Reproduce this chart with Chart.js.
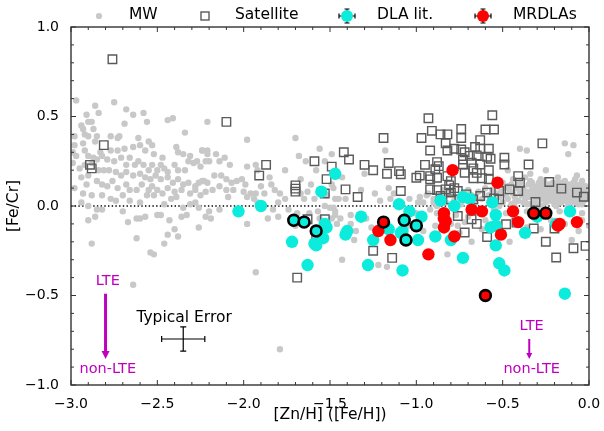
<!DOCTYPE html>
<html>
<head>
<meta charset="utf-8">
<script src="https://cdn.jsdelivr.net/npm/chart.js"></script>
<style>
  html, body { margin: 0; padding: 0; background: #fff; }
  canvas { display: block; }
</style>
</head>
<body>
<canvas id="chart" width="604" height="431"></canvas>
<script>
// Milky Way stars (grey dots)
const mwPoints = [
  [-2.97,0.59],[-2.86,0.56],[-2.75,0.58],[-2.84,0.52],[-2.68,0.54],[-2.58,0.52],[-2.64,0.51],[-2.91,0.51],[-2.56,0.47],[-2.44,0.48],
  [-2.41,0.49],[-2.21,0.47],[-2.94,0.45],[-2.90,0.47],[-2.88,0.47],[-2.69,0.46],[-2.93,0.43],[-2.87,0.43],[-2.98,0.39],[-2.92,0.40],
  [-2.90,0.39],[-2.85,0.39],[-2.77,0.39],[-2.73,0.38],[-2.72,0.39],[-2.61,0.38],[-2.55,0.36],[-2.53,0.34],[-2.34,0.41],[-2.98,0.34],
  [-2.93,0.35],[-2.86,0.36],[-2.83,0.30],[-2.77,0.31],[-2.73,0.31],[-2.69,0.32],[-2.64,0.33],[-2.60,0.34],[-2.57,0.31],[-2.52,0.29],
  [-2.47,0.27],[-2.39,0.33],[-2.38,0.30],[-2.35,0.29],[-2.31,0.28],[-2.27,0.25],[-2.24,0.31],[-2.99,0.30],[-2.97,0.28],[-2.92,0.31],
  [-2.90,0.28],[-2.87,0.27],[-2.85,0.26],[-2.82,0.28],[-2.79,0.26],[-2.75,0.25],[-2.71,0.27],[-2.68,0.23],[-2.66,0.27],[-2.63,0.23],
  [-2.61,0.25],[-2.58,0.23],[-2.55,0.20],[-2.53,0.23],[-2.50,0.20],[-2.48,0.23],[-2.46,0.21],[-2.44,0.19],[-2.40,0.23],[-2.38,0.20],
  [-2.34,0.20],[-2.32,0.25],[-2.29,0.24],[-2.25,0.22],[-2.22,0.25],[-2.99,0.24],[-2.95,0.21],[-2.92,0.23],[-2.88,0.24],[-2.84,0.20],
  [-2.81,0.20],[-2.78,0.20],[-2.74,0.19],[-2.71,0.17],[-2.68,0.19],[-2.64,0.17],[-2.60,0.18],[-2.57,0.16],[-2.54,0.15],[-2.51,0.17],
  [-2.48,0.15],[-2.44,0.16],[-2.41,0.13],[-2.38,0.15],[-2.35,0.12],[-2.32,0.13],[-2.28,0.11],[-2.26,0.13],[-2.23,0.14],[-2.94,0.16],
  [-2.90,0.17],[-2.85,0.14],[-2.82,0.12],[-2.79,0.11],[-2.76,0.14],[-2.73,0.10],[-2.68,0.12],[-2.66,0.09],[-2.62,0.09],[-2.59,0.12],
  [-2.55,0.09],[-2.53,0.11],[-2.50,0.09],[-2.47,0.07],[-2.44,0.10],[-2.40,0.08],[-2.36,0.09],[-2.31,0.07],[-2.28,0.09],[-2.25,0.06],
  [-2.98,0.10],[-2.91,0.12],[-2.93,0.07],[-2.88,0.06],[-2.82,0.06],[-2.77,0.04],[-2.74,0.03],[-2.70,0.06],[-2.66,0.03],[-2.60,0.02],
  [-2.56,0.06],[-2.52,0.06],[-2.46,0.01],[-2.42,0.04],[-2.39,0.05],[-2.35,-0.01],[-2.31,0.01],[-2.28,0.02],[-2.26,-0.01],[-2.94,0.02],
  [-2.90,0.00],[-2.70,-0.03],[-2.67,-0.09],[-2.62,-0.07],[-2.60,-0.07],[-2.57,-0.06],[-2.50,-0.05],[-2.48,-0.05],[-2.43,-0.08],[-2.36,-0.06],
  [-2.33,-0.05],[-2.26,-0.12],[-2.86,-0.06],[-2.85,-0.02],[-2.82,-0.02],[-2.90,-0.08],[-2.88,-0.21],[-2.62,-0.18],[-2.44,-0.16],[-2.40,-0.13],
  [-2.38,-0.17],[-2.46,-0.21],[-2.54,-0.26],[-2.52,-0.27],[-2.64,-0.44],[-1.93,-0.37],[-1.79,-0.80],
  [-1.98,0.37],[-1.70,0.38],[-2.24,0.31],[-2.21,0.31],[-2.21,0.29],[-2.16,0.29],[-2.11,0.27],[-2.08,0.23],[-2.14,0.25],[-2.20,0.25],
  [-1.98,0.22],[-1.93,0.23],[-1.92,0.20],[-2.24,0.14],[-2.21,0.13],[-2.17,0.17],[-2.13,0.17],[-2.10,0.15],[-2.07,0.13],[-2.04,0.14],
  [-2.01,0.15],[-1.99,0.12],[-2.14,0.11],[-2.10,0.09],[-2.22,0.08],[-2.18,0.09],[-2.06,0.09],[-2.00,0.08],[-1.96,0.07],[-1.93,0.07],
  [-1.90,0.11],[-1.88,0.07],[-1.85,0.16],[-1.84,0.12],[-1.82,0.09],[-1.79,0.07],[-1.76,0.04],[-1.76,0.20],[-1.68,0.28],[-1.64,0.25],
  [-1.58,0.20],[-1.67,0.15],[-1.67,0.07],[-1.65,0.04],[-1.61,0.12],[-1.59,0.04],[-1.57,-0.03],[-1.74,-0.02],[-1.83,-0.02],[-1.86,-0.07],
  [-2.14,-0.02],[-2.20,-0.03],[-2.22,-0.06],[-2.19,-0.07],[-2.09,0.05],[-1.98,0.05],[-1.94,0.04],[-1.92,0.02],[-1.80,0.02],[-1.80,-0.06],
  [-1.98,-0.10],[-1.69,-0.04],[-1.62,-0.04],[-1.56,-0.07],[-1.49,0.12],[-1.47,0.04],[-1.48,-0.01],[-1.47,-0.03],[-1.52,0.06],[-1.53,0.00],
  [-1.63,0.08],[-1.53,0.25],[-1.49,0.29],[-1.56,0.32],[-1.70,-0.11],
  [-1.18,0.31],[-1.30,0.18],[-1.43,0.16],[-1.48,0.10],[-1.45,0.04],[-1.41,0.04],[-1.32,0.09],[-1.24,0.07],[-1.21,0.03],[-1.16,0.10],
  [-1.15,0.04],[-1.13,0.07],[-1.04,0.04],[-0.99,0.02],[-0.94,0.06],[-0.90,0.02],[-1.50,-0.01],[-1.47,-0.05],[-1.44,-0.07],[-1.46,-0.10],
  [-1.38,-0.10],[-1.35,-0.14],[-1.36,-0.19],[-1.26,-0.12],[-1.29,-0.07],[-1.00,-0.04],[-0.92,-0.02],[-0.86,-0.07],[-0.82,-0.27],[-1.43,-0.30],
  [-1.17,-0.34],[-1.22,-0.33],[-1.05,-0.11],[-0.96,-0.14],[-0.89,-0.11],[-0.72,-0.09],[-0.76,-0.11],[-0.77,-0.05],[-0.75,-0.15],[-1.38,-0.05],
  [-1.49,-0.07],[-1.15,-0.16],
  [-0.58,0.06],[-0.56,0.09],[-0.55,0.03],[-0.54,0.07],[-0.53,0.11],[-0.52,0.05],[-0.51,0.08],[-0.50,0.02],[-0.49,0.10],[-0.48,0.06],
  [-0.47,0.04],[-0.46,0.09],[-0.45,0.12],[-0.45,0.01],[-0.44,0.07],[-0.43,0.05],[-0.42,0.10],[-0.41,0.03],[-0.40,0.08],[-0.40,0.13],
  [-0.39,0.06],[-0.38,0.02],[-0.38,0.10],[-0.37,0.04],[-0.36,0.08],[-0.35,0.12],[-0.35,0.05],[-0.34,0.01],[-0.33,0.09],[-0.33,0.06],
  [-0.32,0.11],[-0.31,0.03],[-0.31,0.07],[-0.30,0.10],[-0.30,0.05],[-0.29,0.13],[-0.29,0.01],[-0.28,0.08],[-0.27,0.04],[-0.27,0.11],
  [-0.26,0.06],[-0.26,0.09],[-0.25,0.02],[-0.25,0.12],[-0.24,0.07],[-0.23,0.05],[-0.23,0.10],[-0.22,0.03],[-0.22,0.08],[-0.21,0.13],
  [-0.21,0.06],[-0.20,0.01],[-0.20,0.09],[-0.19,0.04],[-0.19,0.11],[-0.18,0.07],[-0.17,0.02],[-0.17,0.10],[-0.16,0.05],[-0.16,0.13],
  [-0.15,0.08],[-0.14,0.03],[-0.14,0.11],[-0.13,0.06],[-0.13,0.09],[-0.12,0.01],[-0.12,0.12],[-0.11,0.07],[-0.11,0.04],[-0.10,0.10],
  [-0.10,0.06],[-0.09,0.02],[-0.09,0.13],[-0.08,0.08],[-0.08,0.05],[-0.07,0.11],[-0.07,0.03],[-0.06,0.07],[-0.06,0.09],[-0.05,0.04],
  [-0.05,0.12],[-0.04,0.06],[-0.04,0.01],[-0.03,0.09],[-0.03,0.05],[-0.02,0.08],[-0.02,0.11],[-0.01,0.04],[-0.01,0.07],[-0.44,0.15],
  [-0.37,0.16],[-0.28,0.15],[-0.18,0.16],[-0.08,0.15],[-0.62,0.04],[-0.64,0.08],[-0.66,0.02],[-0.68,0.06],[-0.70,0.03],[-0.72,0.07],
  [-0.74,0.01],[-0.76,0.05],[-0.78,0.03],[-0.80,0.08],[-0.83,0.02],[-0.86,0.06],[-0.88,0.00],[-0.90,0.04],[-0.93,0.07],[-0.96,0.02],
  [-0.98,0.05],[-0.55,-0.02],[-0.48,-0.04],[-0.43,-0.01],[-0.36,-0.03],[-0.30,-0.02],[-0.24,-0.05],[-0.17,-0.03],[-0.11,-0.02],[-0.04,-0.04],
  [-0.65,-0.03],[-0.70,-0.06],[-0.60,-0.08],[-0.52,-0.10],[-0.46,-0.20],[-0.68,-0.20],[-0.10,-0.19],[0.00,-0.11],[-0.36,-0.12],[-0.28,-0.13],
  [-0.22,-0.08],[-0.14,-0.10],[-0.06,-0.14],[-0.04,-0.08],[-0.88,-0.04],[-0.80,-0.10],[-0.62,-0.13],[-0.40,0.32],[-0.14,0.35],[-0.12,0.29],
  [-0.34,0.18],[-0.07,0.17],[-0.02,0.10],[-0.36,0.31],[-0.09,0.34],[-0.25,0.20],[-0.47,0.20],
  [-0.52,0.00],[-0.47,0.11],[-0.43,0.02],[-0.41,0.12],[-0.37,0.07],[-0.34,0.14],[-0.32,0.02],[-0.28,0.05],[-0.26,0.14],[-0.24,0.03],
  [-0.23,0.12],[-0.21,0.04],[-0.19,0.08],[-0.18,0.13],[-0.16,0.02],[-0.15,0.11],[-0.13,0.04],[-0.12,0.08],[-0.10,0.03],[-0.09,0.10],
  [-0.08,0.12],[-0.06,0.05],[-0.05,0.08],[-0.04,0.10],[-0.03,0.03],[-0.02,0.06],[-0.01,0.10],[-0.36,0.01],[-0.27,0.00],[-0.19,0.00],
  [-0.12,-0.01],[-0.06,0.01],[-0.50,0.13],[-0.33,0.13],[-0.14,0.14],[-0.04,0.14],[-0.57,0.04],[-0.60,0.10],[-0.70,0.09],[-0.84,0.09]
];

// Satellite galaxies (open squares)
const satellitePoints = [
  [-2.76,0.82],[-2.10,0.47],[-2.81,0.34],[-2.89,0.23],[-2.88,0.21],[-1.87,0.23],[-1.91,0.17],[-1.59,0.25],[-1.70,0.115],[-1.70,0.097],
  [-1.70,0.08],[-1.49,0.22],[-1.52,0.15],[-1.53,0.07],[-1.63,-0.074],[-1.53,-0.074],[-1.58,-0.167],[-1.69,-0.40],
  [-1.42,0.30],[-1.39,0.26],[-1.30,0.23],[-1.25,0.20],[-1.16,0.24],[-1.19,0.38],[-1.17,0.18],[-1.10,0.195],[-1.09,0.177],[-1.41,0.093],
  [-1.34,0.05],[-1.09,0.084],[-1.00,0.158],[-0.98,0.17],
  [-0.93,0.49],[-0.91,0.42],[-0.86,0.40],[-0.82,0.40],[-0.97,0.38],[-0.83,0.35],[-0.92,0.31],[-0.82,0.31],[-0.78,0.32],[-0.95,0.23],
  [-0.88,0.245],[-0.87,0.223],[-0.89,0.205],[-0.92,0.167],[-0.88,0.158],[-0.92,0.149],[-0.82,0.167],[-0.80,0.139],[-0.81,0.115],[-0.78,0.10],
  [-0.83,0.093],[-0.80,0.075],[-0.76,0.084],[-0.92,0.093],[-0.88,0.089],[-0.86,0.056],[-0.80,0.037],[-0.74,0.316],[-0.72,0.30],[-0.73,0.26],
  [-0.72,0.186],[-1.25,-0.25],[-1.14,-0.29],[-0.76,-0.056],[-0.72,-0.148],[-0.68,-0.074],
  [-0.56,0.507],[-0.60,0.427],[-0.55,0.427],[-0.74,0.43],[-0.74,0.38],[-0.63,0.368],[-0.66,0.33],[-0.63,0.32],[-0.58,0.32],[-0.69,0.28],
  [-0.65,0.283],[-0.59,0.275],[-0.57,0.264],[-0.73,0.232],[-0.68,0.242],[-0.63,0.232],[-0.49,0.27],[-0.49,0.232],[-0.27,0.35],[-0.35,0.232],
  [-0.67,0.21],[-0.65,0.185],[-0.58,0.20],[-0.62,0.155],[-0.67,0.155],[-0.58,0.149],[-0.41,0.167],[-0.40,0.13],[-0.23,0.134],[-0.16,0.097],
  [-0.46,0.093],[-0.41,0.084],[-0.52,0.084],[-0.59,0.075],[-0.55,0.042],[-0.63,0.056],[-0.71,0.065],[-0.67,0.037],[-0.52,0.037],[-0.31,0.022],
  [-0.07,0.075],[-0.03,0.052],[-0.48,-0.102],[-0.42,-0.093],[-0.32,-0.126],[-0.20,-0.126],[-0.25,-0.20],[-0.09,-0.236],[-0.19,-0.288],[-0.02,-0.223],
  [-0.59,-0.173],[-0.65,-0.10]
];

// DLAs from the literature (cyan), ringed ones drawn with a black edge
const dlaPoints = [
  [-2.03,-0.03],[-1.90,0.00],[-1.55,0.08],[-1.47,0.18],[-1.53,-0.10],[-1.52,-0.12],[-1.54,-0.18],[-1.59,-0.21],[-1.58,-0.22],[-1.72,-0.20],
  [-1.63,-0.33],[-1.41,-0.16],[-1.40,-0.14],[-1.32,-0.06],[-1.25,-0.19],[-1.28,-0.33],[-1.08,-0.36],[-1.10,0.01],[-1.04,-0.03],[-0.97,-0.06],
  [-1.08,-0.14],[-1.09,-0.15],[-1.16,-0.13],[-0.99,-0.19],[-0.89,-0.17],[-0.86,0.03],[-0.80,-0.19],[-0.78,0.00],[-0.73,0.05],[-0.69,0.04],
  [-0.56,0.02],[-0.54,-0.05],[-0.54,-0.11],[-0.57,-0.12],[-0.54,-0.22],[-0.52,-0.32],[-0.49,-0.36],[-0.73,-0.29],[-0.37,-0.15],[-0.30,-0.06],
  [-0.11,-0.03],[-0.14,-0.49],[-0.19,-0.10]
];
const dlaRinged = [[-1.71,-0.08],[-1.65,-0.09],[-1.58,-0.14],[-1.07,-0.08],[-1.00,-0.11],[-1.06,-0.19]];

// MRDLAs (red)
const mrdlaPoints = [
  [-1.22,-0.14],[-1.15,-0.19],[-0.93,-0.27],[-0.79,0.20],[-0.84,-0.04],[-0.84,-0.07],[-0.83,-0.085],[-0.84,-0.12],[-0.78,-0.17],[-0.68,-0.02],
  [-0.62,-0.03],[-0.53,0.13],[-0.51,-0.16],[-0.44,-0.03],[-0.41,-0.09],[-0.18,-0.11],[-0.17,-0.10],[-0.07,-0.09]
];
const mrdlaRinged = [[-1.19,-0.09],[-0.32,-0.04],[-0.25,-0.04],[-0.60,-0.50]];

const xTicks = [-3.0, -2.5, -2.0, -1.5, -1.0, -0.5, 0.0];
const yTicks = [-1.0, -0.5, 0.0, 0.5, 1.0];

// typical error bar (centre x, centre y, x err, y err)
const typicalError = [-2.35, -0.743, 0.125, 0.068];

const FONT = "'DejaVu Sans', 'Liberation Sans', sans-serif";
const CYAN = '#0cecdc';
const RED = '#ff0000';
const MAGENTA = '#bf00bf';
const GREY = '#c8c8c8';
const SQUARE = '#5a5a5a';

const toXY = arr => arr.map(p => ({ x: p[0], y: p[1] }));
const fmt = v => (Math.abs(v) < 1e-9 ? '0.0' : v.toFixed(1).replace('-', '\u2212'));

function errBar(ctx, cx, cy, dx, dy, cap) {
    ctx.beginPath();
    ctx.moveTo(cx - dx, cy); ctx.lineTo(cx + dx, cy);
    ctx.moveTo(cx, cy - dy); ctx.lineTo(cx, cy + dy);
    ctx.moveTo(cx - dx, cy - cap); ctx.lineTo(cx - dx, cy + cap);
    ctx.moveTo(cx + dx, cy - cap); ctx.lineTo(cx + dx, cy + cap);
    ctx.moveTo(cx - cap, cy - dy); ctx.lineTo(cx + cap, cy - dy);
    ctx.moveTo(cx - cap, cy + dy); ctx.lineTo(cx + cap, cy + dy);
    ctx.stroke();
}

function arrow(ctx, x, y0, y1, lw, hw, hl) {
    ctx.beginPath();
    ctx.moveTo(x, y0); ctx.lineTo(x, y1 - hl + 1);
    ctx.lineWidth = lw;
    ctx.stroke();
    ctx.beginPath();
    ctx.moveTo(x - hw, y1 - hl); ctx.lineTo(x + hw, y1 - hl); ctx.lineTo(x, y1);
    ctx.closePath();
    ctx.fill();
}

const decorPlugin = {
    id: 'decor',
    beforeDatasetsDraw(chart) {
        const { ctx, chartArea: a, scales: { y } } = chart;
        const y0 = y.getPixelForValue(0);
        ctx.save();
        ctx.strokeStyle = '#000';
        ctx.lineWidth = 1.3;
        ctx.setLineDash([1.4, 2.3]);
        ctx.beginPath();
        ctx.moveTo(a.left, y0); ctx.lineTo(a.right, y0);
        ctx.stroke();
        ctx.restore();
    },
    afterDatasetsDraw(chart) {
        const { ctx, chartArea: a, scales: { x, y } } = chart;
        ctx.save();

        // frame + inward ticks on all sides
        ctx.strokeStyle = '#333';
        ctx.lineWidth = 1.4;
        ctx.strokeRect(a.left, a.top, a.right - a.left, a.bottom - a.top);
        ctx.lineWidth = 1;
        ctx.beginPath();
        for (let i = -30; i <= 0; i++) {
            const px = x.getPixelForValue(i / 10);
            const len = i % 5 === 0 ? 5 : 3;
            ctx.moveTo(px, a.bottom); ctx.lineTo(px, a.bottom - len);
            ctx.moveTo(px, a.top); ctx.lineTo(px, a.top + len);
        }
        for (let i = -10; i <= 10; i++) {
            const py = y.getPixelForValue(i / 10);
            const len = i % 5 === 0 ? 5 : 3;
            ctx.moveTo(a.left, py); ctx.lineTo(a.left + len, py);
            ctx.moveTo(a.right, py); ctx.lineTo(a.right - len, py);
        }
        ctx.stroke();

        // axis titles
        ctx.fillStyle = '#000';
        ctx.font = '15.5px ' + FONT;
        ctx.textAlign = 'center';
        ctx.textBaseline = 'middle';
        ctx.fillText('[Zn/H] ([Fe/H])', (a.left + a.right) / 2, 415);
        ctx.save();
        ctx.translate(14, (a.top + a.bottom) / 2);
        ctx.rotate(-Math.PI / 2);
        ctx.fillText('[Fe/Cr]', 0, 0);
        ctx.restore();

        // typical error
        const [ex, ey, edx, edy] = typicalError;
        const cx = x.getPixelForValue(ex), cy = y.getPixelForValue(ey);
        const dxp = x.getPixelForValue(ex + edx) - cx;
        const dyp = cy - y.getPixelForValue(ey + edy);
        ctx.strokeStyle = '#000';
        ctx.lineWidth = 1.2;
        errBar(ctx, cx, cy, dxp, dyp, 3);
        ctx.font = '15.5px ' + FONT;
        ctx.fillText('Typical Error', x.getPixelForValue(-2.345), y.getPixelForValue(-0.628));

        // LTE -> non-LTE annotations
        ctx.fillStyle = MAGENTA;
        ctx.strokeStyle = MAGENTA;
        ctx.font = '14.5px ' + FONT;
        ctx.fillText('LTE', x.getPixelForValue(-2.787), y.getPixelForValue(-0.42));
        ctx.fillText('non-LTE', x.getPixelForValue(-2.787), y.getPixelForValue(-0.91));
        arrow(ctx, x.getPixelForValue(-2.80), y.getPixelForValue(-0.49), y.getPixelForValue(-0.855), 3, 4, 8);
        ctx.fillText('LTE', x.getPixelForValue(-0.332), y.getPixelForValue(-0.669));
        ctx.fillText('non-LTE', x.getPixelForValue(-0.332), y.getPixelForValue(-0.914));
        arrow(ctx, x.getPixelForValue(-0.346), y.getPixelForValue(-0.743), y.getPixelForValue(-0.855), 2, 3, 6);

        // legend
        const ly = 16;
        ctx.textAlign = 'left';
        ctx.font = '15.5px ' + FONT;
        ctx.fillStyle = GREY;
        ctx.beginPath(); ctx.arc(99, ly, 3.1, 0, Math.PI * 2); ctx.fill();
        ctx.strokeStyle = SQUARE; ctx.lineWidth = 1.4;
        ctx.strokeRect(205 - 4, ly - 4, 8, 8);
        ctx.strokeStyle = '#000'; ctx.lineWidth = 1.2;
        errBar(ctx, 347, ly, 8, 7, 2.5);
        ctx.fillStyle = CYAN;
        ctx.beginPath(); ctx.arc(347, ly, 6, 0, Math.PI * 2); ctx.fill();
        errBar(ctx, 483, ly, 8, 7, 2.5);
        ctx.fillStyle = RED;
        ctx.beginPath(); ctx.arc(483, ly, 6, 0, Math.PI * 2); ctx.fill();
        ctx.fillStyle = '#000';
        ctx.fillText('MW', 129, ly - 1);
        ctx.fillText('Satellite', 235, ly - 1);
        ctx.fillText('DLA lit.', 377, ly - 1);
        ctx.fillText('MRDLAs', 513, ly - 1);

        ctx.restore();
    }
};

Chart.defaults.font.family = FONT;
Chart.defaults.color = '#000';

new Chart(document.getElementById('chart'), {
    type: 'scatter',
    data: {
        datasets: [
            { label: 'MRDLAs ringed', data: toXY(mrdlaRinged), order: 1, pointRadius: 5.4,
              pointBackgroundColor: RED, pointBorderColor: '#000', pointBorderWidth: 2.6 },
            { label: 'MRDLAs', data: toXY(mrdlaPoints), order: 2, pointRadius: 6.2,
              pointBackgroundColor: RED, pointBorderWidth: 0 },
            { label: 'DLA ringed', data: toXY(dlaRinged), order: 3, pointRadius: 5.4,
              pointBackgroundColor: CYAN, pointBorderColor: '#000', pointBorderWidth: 2.6 },
            { label: 'DLA lit.', data: toXY(dlaPoints), order: 4, pointRadius: 6.2,
              pointBackgroundColor: CYAN, pointBorderWidth: 0 },
            { label: 'Satellite', data: toXY(satellitePoints), order: 5, pointStyle: 'rect', pointRadius: 6,
              pointBackgroundColor: 'rgba(0,0,0,0)', pointBorderColor: SQUARE, pointBorderWidth: 1.4 },
            { label: 'MW', data: toXY(mwPoints), order: 6, pointRadius: 3.2,
              pointBackgroundColor: GREY, pointBorderWidth: 0 }
        ]
    },
    options: {
        responsive: false,
        animation: false,
        events: [],
        layout: { padding: { top: 27, right: 15, left: 0, bottom: 0 } },
        plugins: { legend: { display: false }, tooltip: { enabled: false } },
        scales: {
            x: {
                type: 'linear', min: -3, max: 0,
                grid: { display: false },
                border: { display: false },
                afterBuildTicks: s => { s.ticks = xTicks.map(v => ({ value: v })); },
                afterFit: s => { s.height = 46; },
                ticks: { callback: v => fmt(v), maxRotation: 0, autoSkip: false, padding: 3,
                         font: { size: 14 }, color: '#000' }
            },
            y: {
                type: 'linear', min: -1, max: 1,
                grid: { display: false },
                border: { display: false },
                afterBuildTicks: s => { s.ticks = yTicks.map(v => ({ value: v })); },
                afterFit: s => { s.width = 71; },
                ticks: { callback: v => fmt(v), autoSkip: false, padding: 4,
                         font: { size: 14 }, color: '#000' }
            }
        }
    },
    plugins: [decorPlugin]
});
</script>
</body>
</html>
